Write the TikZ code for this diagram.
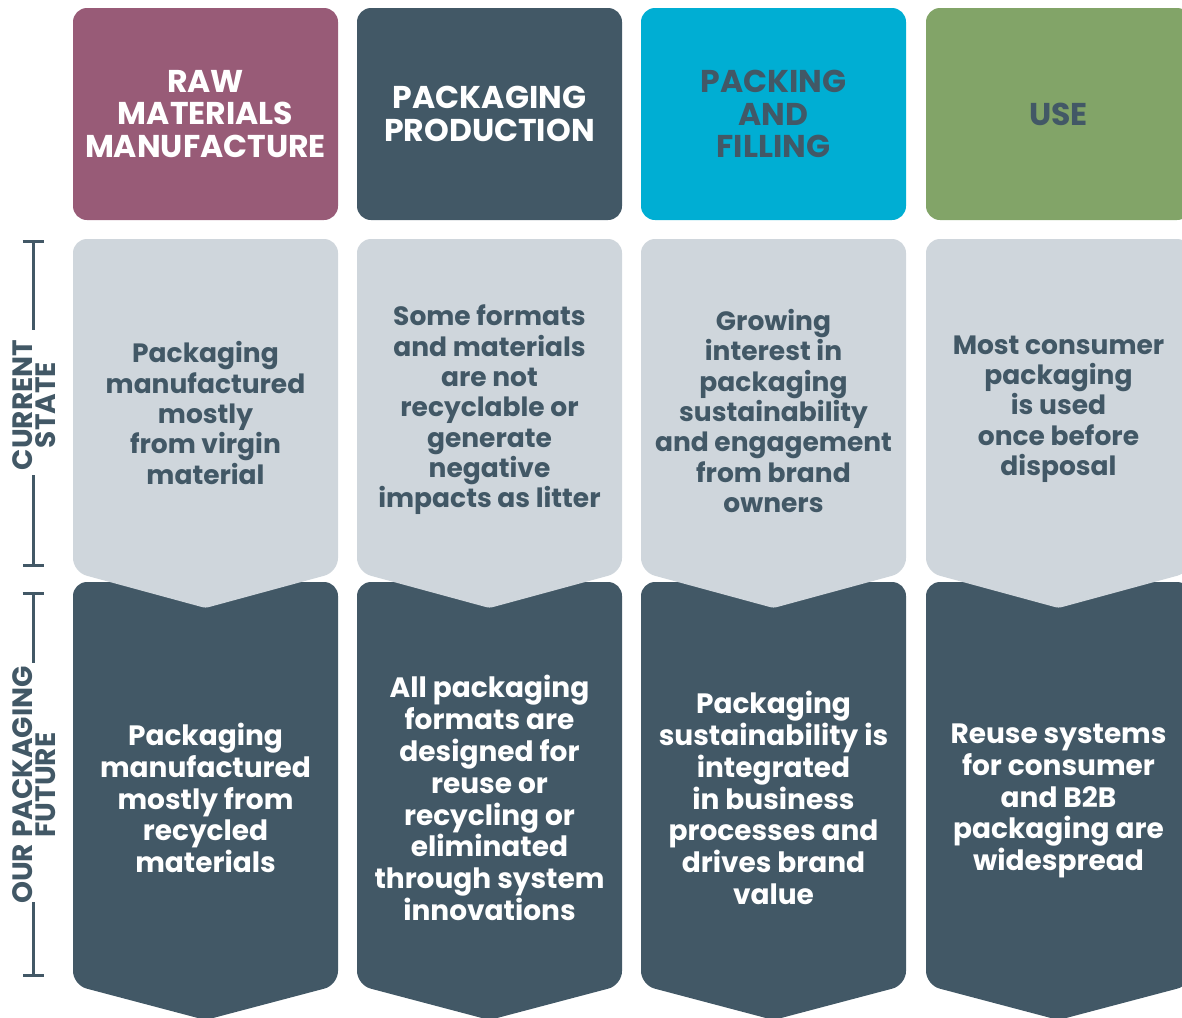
\documentclass[tikz,border=0pt]{standalone}
\usepackage{fontspec}
\setmainfont{Poppins}
\usetikzlibrary{arrows.meta}

\definecolor{slate}{HTML}{425866}
\definecolor{mauve}{HTML}{985B77}
\definecolor{aqua}{HTML}{00AED3}
\definecolor{olive}{HTML}{82A468}
\definecolor{mist}{HTML}{CFD6DC}

% left edge, top, side bottom, tip, colour
\newcommand{\chevronbox}[5]{%
  \fill[#5, rounded corners=14pt] (#1,#2) -- (#1+265,#2) -- (#1+265,#3)
    [rounded corners=3pt] -- (#1+132.5,#4) [rounded corners=14pt] -- (#1,#3) -- cycle;}

\begin{document}
\begin{tikzpicture}[
  x=1pt, y=-1pt,
  head/.style={rectangle, rounded corners=14pt, minimum width=265pt,
    minimum height=212pt, inner sep=0pt, align=center,
    font=\bfseries\fontsize{31.5}{32.5}\selectfont},
  nowtext/.style={align=center, text=slate, inner sep=0pt,
    font=\bfseries\fontsize{26.5}{30.3}\selectfont},
  futuretext/.style={align=center, text=white, inner sep=0pt,
    font=\bfseries\fontsize{28}{31.8}\selectfont},
  sidelabel/.style={rotate=90, align=center, text=slate, inner sep=0pt,
    font=\bfseries\fontsize{28}{22.5}\selectfont},
  bracket/.style={draw=slate, line width=3pt}
]
\clip (0,0) rectangle (1182,1017);

% stage headers
\node[head, fill=mauve, text=white] (rawhead) at (205.5,114) {RAW\\MATERIALS\\MANUFACTURE};
\node[head, fill=slate, text=white] (prodhead) at (489.5,114) {PACKAGING\\PRODUCTION};
\node[head, fill=aqua, text=slate] (fillhead) at (773.5,114) {PACKING\\AND\\FILLING};
\node[head, fill=olive, text=slate] (usehead) at (1058.5,114) {USE};

% future row first, current row lies over its notch
\chevronbox{73}{582}{985}{1020}{slate}
\chevronbox{357}{582}{985}{1020}{slate}
\chevronbox{641}{582}{985}{1020}{slate}
\chevronbox{926}{582}{985}{1020}{slate}

\chevronbox{73}{239}{572}{608}{mist}
\chevronbox{357}{239}{572}{608}{mist}
\chevronbox{641}{239}{572}{608}{mist}
\chevronbox{926}{239}{572}{608}{mist}

% current state
\node[nowtext] (rawnow) at (205.5,413) {Packaging\\manufactured\\mostly\\from virgin\\material};
\node[nowtext] (prodnow) at (489.5,410) {Some formats\\and materials\\are not\\recyclable or\\generate\\negative\\impacts as litter};
\node[nowtext] (fillnow) at (773.5,411) {Growing\\interest in\\packaging\\sustainability\\and engagement\\from brand\\owners};
\node[nowtext] (usenow) at (1058.5,409) {Most consumer\\packaging\\is used\\once before\\disposal};

% our packaging future
\node[futuretext] (rawfuture) at (205.5,798) {Packaging\\manufactured\\mostly from\\recycled\\materials};
\node[futuretext] (prodfuture) at (489.5,798) {All packaging\\formats are\\designed for\\reuse or\\recycling or\\eliminated\\through system\\innovations};
\node[futuretext] (fillfuture) at (773.5,798) {Packaging\\sustainability is\\integrated\\in business\\processes and\\drives brand\\value};
\node[futuretext] (usefuture) at (1058.5,801) {Reuse systems\\for consumer\\and B2B\\packaging are\\widespread};

% row brackets
\node[sidelabel] (curlabel) at (34,405) {CURRENT\\STATE};
\coordinate (curtop) at (33,240);
\coordinate (curup) at (33,330);
\coordinate (curdown) at (33,475);
\coordinate (curbot) at (33,567);
\draw[bracket, {Bar[width=21pt,line width=3pt]}-] (curtop) -- (curup);
\draw[bracket, -{Bar[width=21pt,line width=3pt]}] (curdown) -- (curbot);

\node[sidelabel] (futlabel) at (34,785) {OUR PACKAGING\\FUTURE};
\coordinate (futtop) at (33,592);
\coordinate (futup) at (33,663);
\coordinate (futdown) at (33,902);
\coordinate (futbot) at (33,977);
\draw[bracket, {Bar[width=21pt,line width=3pt]}-] (futtop) -- (futup);
\draw[bracket, -{Bar[width=21pt,line width=3pt]}] (futdown) -- (futbot);

\end{tikzpicture}
\end{document}
